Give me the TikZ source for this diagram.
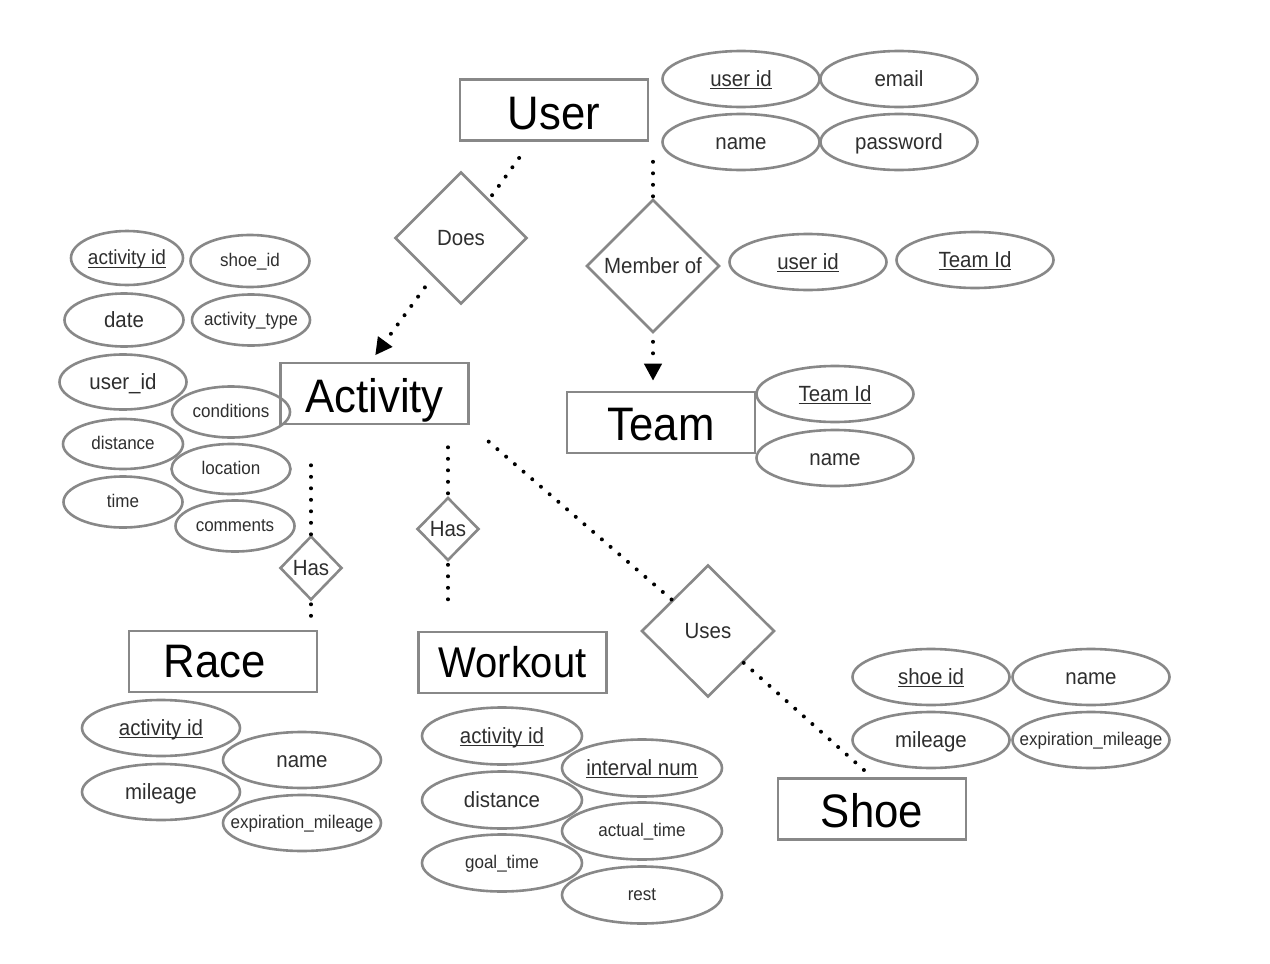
\documentclass[tikz,border=0pt]{standalone}
\usepackage{fontspec}
\setmainfont{Liberation Sans}[FakeStretch=0.93]
\usetikzlibrary{shapes.geometric,arrows.meta}
\newcommand\ulk[1]{\setbox0\hbox{#1}\rlap{\rule[-2.8pt]{\wd0}{1.2pt}}\box0}
\newcommand\zb[1]{\makebox[0pt]{#1}}
\definecolor{bord}{HTML}{888888}
\definecolor{txt}{HTML}{2E2E2E}
\begin{document}
\begin{tikzpicture}[x=1pt,y=-1pt,
 ent/.style={draw=bord,line width=2.6pt,rectangle,minimum width=188pt,minimum height=61pt,inner sep=0pt,font=\fontsize{47}{52}\selectfont,text=black,text height=36pt,text depth=0pt},
 rel/.style={draw=bord,line width=2.6pt,diamond,aspect=1,inner sep=0pt,font=\fontsize{22}{26}\selectfont,text=txt},
 att/.style={draw=bord,line width=2.6pt,ellipse,inner sep=0pt,minimum width=157pt,minimum height=56pt,font=\fontsize{22}{26}\selectfont,text=txt,text height=15.8pt,text depth=0.8pt},
 sm/.style={font=\fontsize{18.3}{22}\selectfont,text height=12.5pt,text depth=1pt},
 dotline/.style={line width=4pt,line cap=round,dash pattern=on 0pt off 11.5pt,black},
 tip/.style={-{Triangle[width=17pt,length=17pt]}}
]
\useasboundingbox (0,0) rectangle (1270,964);
% entities
\node[ent,text height=38pt] (user) at (554,110) {User};
\node[ent,text height=37pt] (activity) at (374.5,393.5) {Activity};
\node[ent,text height=35pt] (team) at (661,422.5) {Team};
\node[ent,text height=31pt] (race) at (223,661.5) {\hspace*{-16pt}Race};
\node[ent,font=\fontsize{43}{50}\selectfont,text height=29pt] (workout) at (512.5,662.5) {Workout};
\node[ent] (shoe) at (872,809) {Shoe};
% relationships
\node[rel,minimum width=132pt,minimum height=132pt] (does) at (461,238) {Does};
\node[rel,minimum width=133pt,minimum height=133pt] (member) at (653,266) {Member of};
\node[rel,minimum width=62pt,minimum height=64pt] (hasR) at (311,568) {Has};
\node[rel,minimum width=62pt,minimum height=63pt] (hasW) at (448,529) {Has};
\node[rel,minimum width=133pt,minimum height=132pt] (uses) at (708,631) {Uses};
% user attributes
\node[att] (uid) at (741,79) {\zb{\ulk{user id}}};
\node[att] (uemail) at (899,79) {\zb{email}};
\node[att] (uname) at (741,142) {\zb{name}};
\node[att] (upass) at (899,142) {\zb{password}};
% member attributes
\node[att] (muid) at (808,262) {\zb{\ulk{user id}}};
\node[att] (mtid) at (975,260) {\zb{\ulk{Team Id}}};
% team attributes
\node[att] (ttid) at (835,394) {\zb{\ulk{Team Id}}};
\node[att] (tname) at (835,458) {\zb{name}};
% activity attributes
\node[att,minimum width=112pt,minimum height=54pt,font=\fontsize{20.4}{24}\selectfont,text height=14.7pt] (aid) at (127,258) {\zb{\ulk{activity id}}};
\node[att,sm,minimum width=119pt,minimum height=52pt] (ashoe) at (250,261) {\zb{shoe\_id}};
\node[att,minimum width=119pt,minimum height=53pt] (adate) at (124,320) {\zb{date}};
\node[att,sm,minimum width=118pt,minimum height=51pt] (atype) at (251,320) {\zb{activity\_type}};
\node[att,minimum width=127pt,minimum height=55pt] (auid) at (123,382) {\zb{user\_id}};
\node[att,sm,minimum width=118pt,minimum height=51pt] (acond) at (231,412) {\zb{conditions}};
\node[att,sm,minimum width=120pt,minimum height=50pt] (adist) at (123,444) {\zb{distance}};
\node[att,sm,minimum width=119pt,minimum height=50pt] (aloc) at (231,469) {\zb{location}};
\node[att,sm,minimum width=119pt,minimum height=51pt] (atime) at (123,502) {\zb{time}};
\node[att,sm,minimum width=119pt,minimum height=51pt] (acomm) at (235,526) {\zb{comments}};
% race attributes
\node[att,minimum width=158pt] (raid) at (161,728) {\zb{\ulk{activity id}}};
\node[att,minimum width=158pt] (rname) at (302,760) {\zb{name}};
\node[att,minimum width=158pt] (rmil) at (161,792) {\zb{mileage}};
\node[att,sm,minimum width=158pt] (rexp) at (302,823) {\zb{expiration\_mileage}};
% workout attributes
\node[att,minimum width=160pt,minimum height=57pt] (waid) at (502,736) {\zb{\ulk{activity id}}};
\node[att,minimum width=160pt,minimum height=57pt] (wint) at (642,768) {\zb{\ulk{interval num}}};
\node[att,minimum width=160pt,minimum height=57pt] (wdist) at (502,800) {\zb{distance}};
\node[att,sm,minimum width=160pt,minimum height=57pt] (wact) at (642,831) {\zb{actual\_time}};
\node[att,sm,minimum width=160pt,minimum height=57pt] (wgoal) at (502,863) {\zb{goal\_time}};
\node[att,sm,minimum width=160pt,minimum height=57pt] (wrest) at (642,895) {\zb{rest}};
% shoe attributes
\node[att] (said) at (931,677) {\zb{\ulk{shoe id}}};
\node[att] (sname) at (1091,677) {\zb{name}};
\node[att] (smil) at (931,740) {\zb{mileage}};
\node[att,sm] (sexp) at (1091,740) {\zb{expiration\_mileage}};
% connectors
\draw[dotline,shorten <=20pt] (user) -- (does);
\draw[dotline,tip,shorten <=13pt,shorten >=8pt] (does) -- ([xshift=-4pt]activity.north);
\draw[dotline,shorten <=20pt] (member.north |- user.south) -- (member.north);
\draw[dotline,tip,shorten <=8pt,shorten >=10pt] (member.south) -- (member.south |- team.north);
\draw[dotline,shorten <=40pt] (activity.south -| hasR.north) -- (hasR.north);
\draw[dotline,shorten <=3pt,shorten >=9pt] (hasR.south) -- (hasR.south |- race.north);
\draw[dotline,shorten <=22pt] (activity.south -| hasW.north) -- (hasW.north);
\draw[dotline,shorten <=3pt,shorten >=26pt] (hasW.south) -- (hasW.south |- workout.north);
\draw[dotline,shorten <=25pt] (activity.south east) -- (uses);
\draw[dotline,shorten >=9pt] (uses) -- (shoe.north);
\end{tikzpicture}
\end{document}
